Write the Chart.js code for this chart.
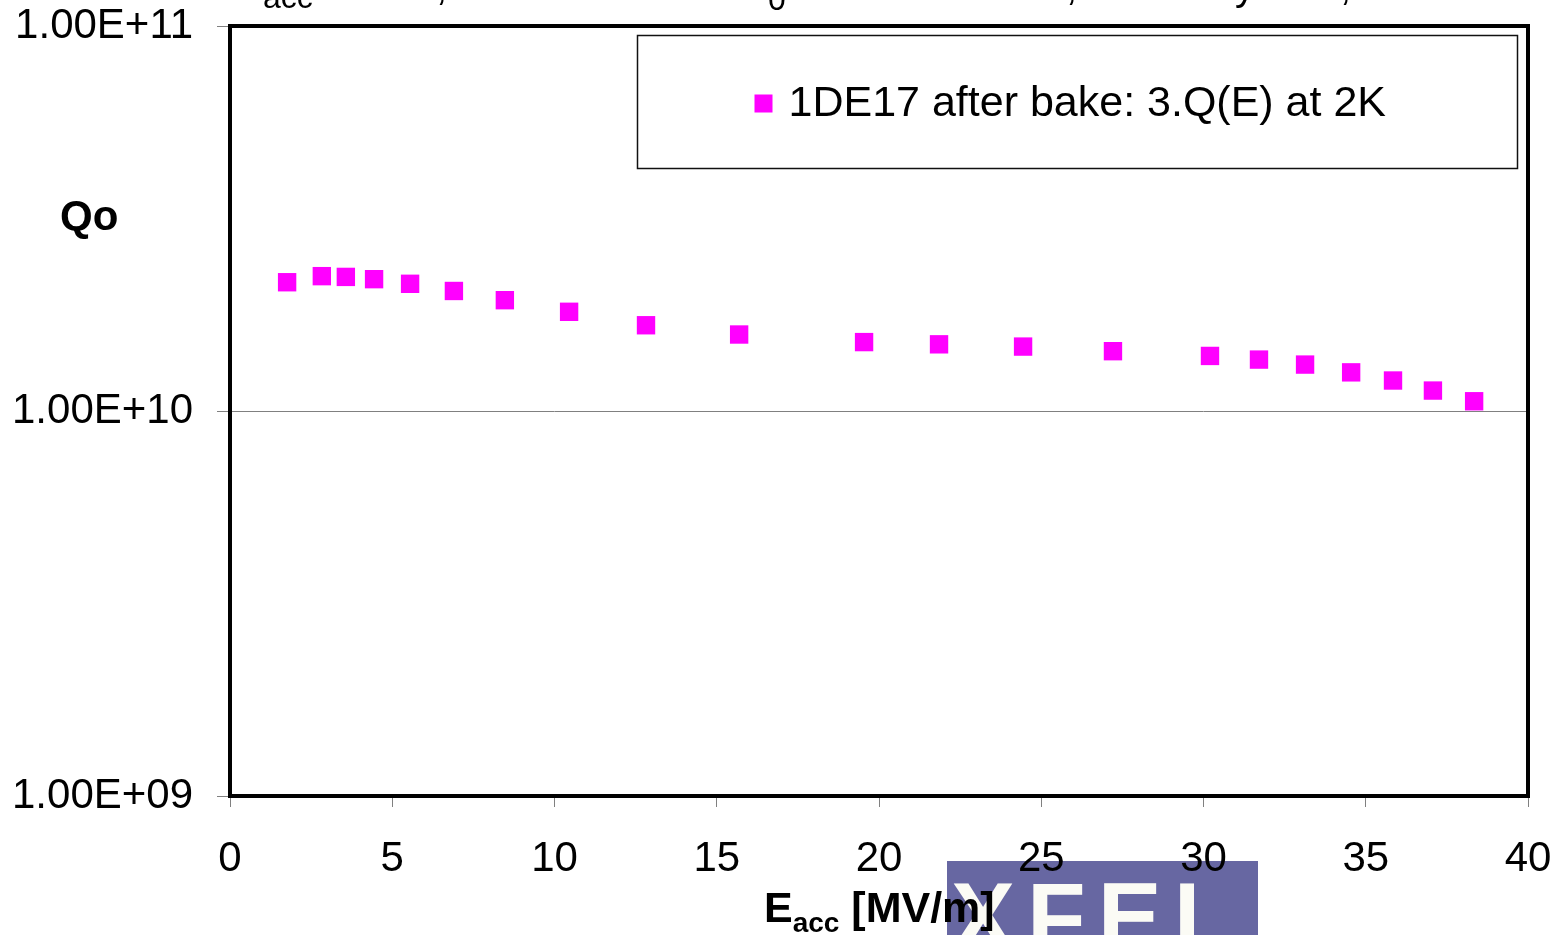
<!DOCTYPE html>
<html>
<head>
<meta charset="utf-8">
<script src="https://cdn.jsdelivr.net/npm/chart.js@4.4.1/dist/chart.umd.min.js"></script>
<style>
  html, body { margin: 0; padding: 0; background: #ffffff; }
  #wrap { position: relative; width: 1552px; height: 935px; overflow: hidden; background: #ffffff;
          font-family: "Liberation Sans", Arial, sans-serif; color: #000; }
  #chart { position: absolute; left: 0; top: 0; z-index: 1; }
  #logo { position: absolute; left: 947px; top: 861px; width: 311px; height: 80px; background: #6767a2;
          z-index: 0; overflow: hidden; }
  #logo span { position: absolute; left: 4px; top: 8px; font-size: 96px; line-height: 1; font-weight: bold;
          color: #fbfbf5; letter-spacing: 12px; }
  .txt { position: absolute; white-space: nowrap; line-height: 1; z-index: 2; }
  #xtitle { left: 764px; top: 886px; font-size: 43px; font-weight: bold; }
  #xtitle sub { font-size: 28px; vertical-align: -10px; line-height: 1; }
  #qo { left: 60px; top: 195px; font-size: 42px; font-weight: bold; }
  .frag { position: absolute; line-height: 1; white-space: nowrap; z-index: 2; font-size: 40px; }
  .fragsub { position: absolute; line-height: 1; white-space: nowrap; z-index: 2; font-size: 32px; }
</style>
</head>
<body>
<div id="wrap">
  <div id="logo"><span>XFEL</span></div>
  <canvas id="chart" width="1552" height="935"></canvas>
  <div class="txt" id="xtitle">E<sub>acc</sub> [MV/m]</div>
  <div class="txt" id="qo">Qo</div>
  <div class="fragsub" style="left:263px; top:-19px;">acc</div>
  <div class="frag" style="left:436px; top:-34px;">,</div>
  <div class="fragsub" style="left:768px; top:-17px;">0</div>
  <div class="frag" style="left:1066px; top:-34px;">,</div>
  <div class="frag" style="left:1235px; top:-34px;">y</div>
  <div class="frag" style="left:1340px; top:-34px;">,</div>
</div>
<script>
// ---- data ----
const seriesLabel = "1DE17 after bake: 3.Q(E) at 2K";
const eacc = [1.76, 2.83, 3.57, 4.44, 5.55, 6.90, 8.47, 10.45, 12.82, 15.69, 19.54,
              21.85, 24.44, 27.21, 30.20, 31.71, 33.13, 34.55, 35.84, 37.07, 38.34];
const q0 = [2.16e10, 2.24e10, 2.23e10, 2.20e10, 2.14e10, 2.05e10, 1.94e10, 1.81e10, 1.67e10, 1.58e10, 1.51e10,
            1.49e10, 1.47e10, 1.43e10, 1.39e10, 1.36e10, 1.32e10, 1.26e10, 1.20e10, 1.13e10, 1.06e10];
const yTickValues = [1e9, 1e10, 1e11];
const yTickLabels = ["1.00E+09", "1.00E+10", "1.00E+11"];
const xTickValues = [0, 5, 10, 15, 20, 25, 30, 35, 40];
const xTickLabels = ["0", "5", "10", "15", "20", "25", "30", "35", "40"];

const FONT = '"Liberation Sans", Arial, sans-serif';
const MAGENTA = '#ff00ff';

const points = eacc.map((e, i) => ({ x: e, y: q0[i] }));

function noPad(s) { s.paddingTop = 0; s.paddingBottom = 0; s.paddingLeft = 0; s.paddingRight = 0; }

const framePlugin = {
  id: 'frame',
  afterDraw(chart) {
    const { ctx, chartArea: a } = chart;
    ctx.save();
    // plot frame
    ctx.strokeStyle = '#000';
    ctx.lineWidth = 4;
    ctx.strokeRect(a.left, a.top, a.right - a.left, a.bottom - a.top);
    // legend box inside the plot
    const lx = a.left + 407.5, ly = a.top + 9.5, lw = 880, lh = 133;
    ctx.lineWidth = 1.5;
    ctx.strokeStyle = '#111';
    ctx.fillStyle = '#fff';
    ctx.fillRect(lx, ly, lw, lh);
    ctx.strokeRect(lx, ly, lw, lh);
    const ds = chart.data.datasets[0];
    ctx.fillStyle = ds.backgroundColor;
    ctx.fillRect(lx + 117, ly + 59, 18, 18);
    ctx.fillStyle = '#000';
    ctx.font = '43px ' + FONT;
    ctx.textBaseline = 'middle';
    ctx.textAlign = 'left';
    ctx.fillText(ds.label, lx + 151, ly + 69);
    ctx.restore();
  }
};

new Chart(document.getElementById('chart'), {
  type: 'scatter',
  data: {
    datasets: [{
      label: seriesLabel,
      data: points,
      backgroundColor: MAGENTA,
      borderColor: MAGENTA,
      borderWidth: 0,
      pointStyle: 'rect',
      pointRadius: 13,
      pointHoverRadius: 13,
      showLine: false
    }]
  },
  options: {
    responsive: false,
    devicePixelRatio: 1,
    animation: false,
    layout: { padding: { left: 0, top: 26, right: 24, bottom: 0 } },
    plugins: {
      legend: { display: false },
      title: { display: false },
      tooltip: { enabled: false }
    },
    scales: {
      x: {
        type: 'linear',
        min: 0, max: 40,
        afterBuildTicks: (s) => { s.ticks = xTickValues.map(v => ({ value: v })); },
        afterFit: (s) => { s.height = 139; noPad(s); },
        ticks: {
          color: '#000',
          font: { family: FONT, size: 42 },
          padding: 27,
          maxRotation: 0,
          autoSkip: false,
          callback: (v) => xTickLabels[xTickValues.indexOf(v)]
        },
        grid: { drawOnChartArea: false, drawTicks: true, tickLength: 11, color: '#808080', lineWidth: 1 },
        border: { display: false }
      },
      y: {
        type: 'logarithmic',
        min: 1e9, max: 1e11,
        afterBuildTicks: (s) => { s.ticks = yTickValues.map(v => ({ value: v })); },
        afterFit: (s) => { s.width = 230; noPad(s); },
        ticks: {
          color: '#000',
          font: { family: FONT, size: 42 },
          padding: 24,
          autoSkip: false,
          callback: (v) => yTickLabels[yTickValues.indexOf(v)]
        },
        grid: { drawOnChartArea: true, drawTicks: true, tickLength: 13, color: '#808080', lineWidth: 1 },
        border: { display: false }
      }
    }
  },
  plugins: [framePlugin]
});
</script>
</body>
</html>
